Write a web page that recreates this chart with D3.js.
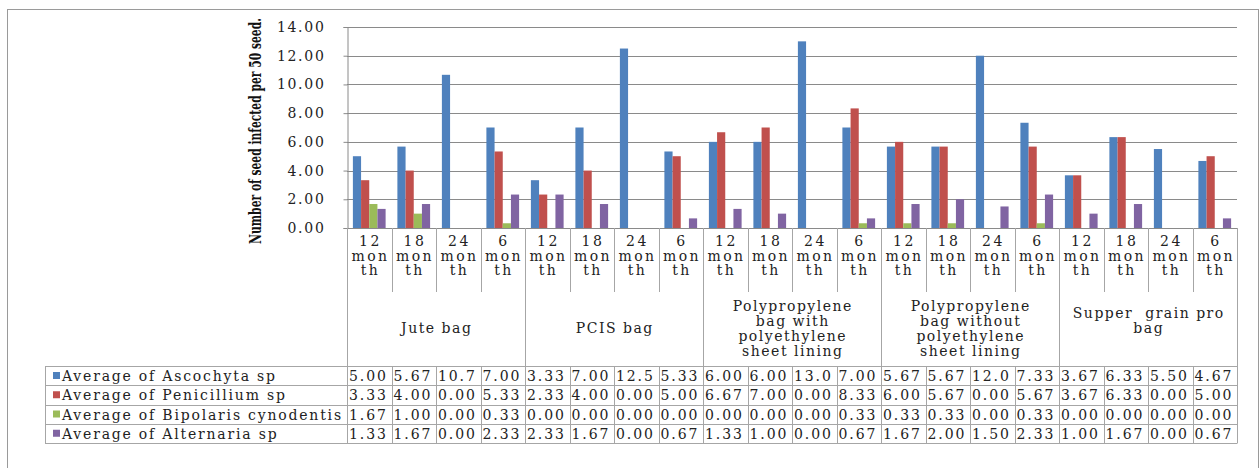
<!DOCTYPE html>
<html>
<head>
<meta charset="utf-8">
<script src="https://cdn.jsdelivr.net/npm/d3@7"></script>
<style>
  html, body { margin: 0; padding: 0; background: #fff; }
  svg { display: block; }
  text { font-family: "DejaVu Serif", serif; fill: #222; white-space: pre; }
</style>
</head>
<body>
<svg id="chart" width="1259" height="468"></svg>
<script>
// ---------- data ----------
const groups = ["Jute bag", "PCIS bag",
  "Polypropylene bag with polyethylene sheet lining",
  "Polypropylene bag without polyethylene sheet lining",
  "Supper  grain pro bag"];
const groupLabelLines = [
  ["Jute bag"],
  ["PCIS bag"],
  ["Polypropylene", "bag with", "polyethylene", "sheet lining"],
  ["Polypropylene", "bag without", "polyethylene", "sheet lining"],
  ["Supper  grain pro", "bag", ""]
];
const months = ["12 month", "18 month", "24 month", "6 month"];
const monthLabelLines = [["12", "mon", "th"], ["18", "mon", "th"], ["24", "mon", "th"], ["6", "mon", "th"]];
const seriesNames = ["Average of Ascochyta sp", "Average of Penicillium sp",
  "Average of Bipolaris cynodentis", "Average of Alternaria sp"];
const ascochyta   = [5.00, 5.67, 10.67, 7.00, 3.33, 7.00, 12.50, 5.33, 6.00, 6.00, 13.00, 7.00, 5.67, 5.67, 12.00, 7.33, 3.67, 6.33, 5.50, 4.67];
const penicillium = [3.33, 4.00, 0.00, 5.33, 2.33, 4.00, 0.00, 5.00, 6.67, 7.00, 0.00, 8.33, 6.00, 5.67, 0.00, 5.67, 3.67, 6.33, 0.00, 5.00];
const bipolaris   = [1.67, 1.00, 0.00, 0.33, 0.00, 0.00, 0.00, 0.00, 0.00, 0.00, 0.00, 0.33, 0.33, 0.33, 0.00, 0.33, 0.00, 0.00, 0.00, 0.00];
const alternaria  = [1.33, 1.67, 0.00, 2.33, 2.33, 1.67, 0.00, 0.67, 1.33, 1.00, 0.00, 0.67, 1.67, 2.00, 1.50, 2.33, 1.00, 1.67, 0.00, 0.67];
const yTicks = [0, 2, 4, 6, 8, 10, 12, 14];
const yTitle = "Number of seed infected per 50 seed.";
const colors = ["#4F81BD", "#C0504D", "#9BBB59", "#8064A2"];

// ---------- layout ----------
const seriesValues = [ascochyta, penicillium, bipolaris, alternaria];
const cats = [];
groups.forEach((g, gi) => months.forEach((m, mi) => cats.push({key: gi + "|" + mi, g: gi, m: mi})));

const L = 347, R = 1237, T = 27, B = 228;
const monthRowBottom = 292, tableTop = 366, rowH = 19.25, legendLeft = 45;
const gridColor = "#8a8a8a", tableColor = "#a6a6a6";

const svg = d3.select("#chart");

// outer chart border
svg.append("rect").attr("x", 7.5).attr("y", 9.5).attr("width", 1251).attr("height", 470)
  .attr("fill", "none").attr("stroke", "#9a9a9a").attr("stroke-width", 1);

const x0 = d3.scaleBand().domain(cats.map(d => d.key)).range([L, R]).paddingInner(0).paddingOuter(0);
const x1 = d3.scaleBand().domain(d3.range(seriesNames.length))
  .range([0, x0.bandwidth()]).paddingInner(0).paddingOuter(0.72);
const y = d3.scaleLinear().domain([0, 14]).range([B, T]);

// gridlines
svg.append("g").selectAll("line").data(yTicks).join("line")
  .attr("x1", L).attr("x2", R)
  .attr("y1", d => Math.round(y(d)) + 0.5).attr("y2", d => Math.round(y(d)) + 0.5)
  .attr("stroke", gridColor).attr("stroke-width", 1);

// y axis
const yAxis = d3.axisLeft(y).tickValues(yTicks).tickFormat(d3.format(".2f")).tickSize(4).tickPadding(18);
const ya = svg.append("g").attr("transform", `translate(${L + 0.5},0)`).call(yAxis);
ya.select(".domain").attr("stroke", gridColor);
ya.selectAll(".tick line").attr("stroke", gridColor);
ya.selectAll(".tick text").attr("font-family", "DejaVu Serif").attr("font-size", 14)
  .attr("letter-spacing", 1.7).attr("fill", "#333");

// bars
const bars = svg.append("g");
seriesValues.forEach((vals, si) => {
  bars.selectAll(null).data(cats).join("rect")
    .attr("x", d => x0(d.key) + x1(si))
    .attr("width", x1.bandwidth())
    .attr("y", (d, i) => y(vals[i]))
    .attr("height", (d, i) => y(0) - y(vals[i]))
    .attr("fill", colors[si]);
});

// y-axis title (condensed bold serif, scaled to the reference length)
const titleG = svg.append("g").attr("transform", `translate(261,${(18 + 244) / 2}) rotate(-90)`);
const titleT = titleG.append("text")
  .attr("text-anchor", "middle")
  .attr("font-family", "Liberation Serif").attr("font-weight", "bold").attr("font-size", 16)
  .style("fill", "#111")
  .text(yTitle);
const natural = titleT.node().getComputedTextLength();
titleT.attr("transform", `scale(${226 / natural},1)`);

// ---------- category axis ----------
const cat = svg.append("g");
const lineStyle = sel => sel.attr("stroke", tableColor).attr("stroke-width", 1);
cat.append("line").attr("x1", L).attr("x2", R).attr("y1", B + 0.5).attr("y2", B + 0.5).attr("stroke", gridColor);
cats.forEach(d => {
  const xx = Math.round(x0(d.key)) + 0.5;
  const isGroupEdge = d.m === 0;
  cat.append("line").attr("x1", xx).attr("x2", xx).attr("y1", B)
    .attr("y2", isGroupEdge ? tableTop : monthRowBottom).call(lineStyle);
});
cat.append("line").attr("x1", R + 0.5).attr("x2", R + 0.5).attr("y1", B).attr("y2", tableTop).call(lineStyle);

// month labels
cats.forEach(d => {
  const cx = x0(d.key) + x0.bandwidth() / 2;
  const t = cat.append("text").attr("text-anchor", "middle").attr("font-size", 14).attr("letter-spacing", 2.5);
  monthLabelLines[d.m].forEach((ln, li) => {
    t.append("tspan").attr("x", cx + 1.25).attr("y", 246 + li * 14.5).text(ln);
  });
});
// group labels
groups.forEach((g, gi) => {
  const x0g = x0(cats[gi * 4].key), x1g = x0(cats[gi * 4 + 3].key) + x0.bandwidth();
  const cx = (x0g + x1g) / 2;
  const lines = groupLabelLines[gi];
  const lh = 15;
  const cy = (monthRowBottom + tableTop) / 2 + 4;
  const t = cat.append("text").attr("text-anchor", "middle").attr("font-size", 14).attr("letter-spacing", 1.5);
  lines.forEach((ln, li) => {
    t.append("tspan").attr("x", cx + 0.75).attr("y", cy + (li - (lines.length - 1) / 2) * lh).text(ln);
  });
});

// ---------- data table ----------
const tbl = svg.append("g");
const fmt = v => v >= 10 ? v.toFixed(1) : v.toFixed(2);
for (let r = 0; r <= seriesNames.length; r++) {
  const yy = Math.round(tableTop + r * rowH) + 0.5;
  tbl.append("line").attr("x1", legendLeft).attr("x2", R).attr("y1", yy).attr("y2", yy).call(lineStyle);
}
const tableBottom = Math.round(tableTop + seriesNames.length * rowH) + 0.5;
tbl.append("line").attr("x1", legendLeft + 0.5).attr("x2", legendLeft + 0.5).attr("y1", tableTop).attr("y2", tableBottom).call(lineStyle);
cats.forEach(d => {
  const xx = Math.round(x0(d.key)) + 0.5;
  tbl.append("line").attr("x1", xx).attr("x2", xx).attr("y1", tableTop).attr("y2", tableBottom).call(lineStyle);
});
tbl.append("line").attr("x1", R + 0.5).attr("x2", R + 0.5).attr("y1", tableTop).attr("y2", tableBottom).call(lineStyle);

seriesNames.forEach((name, si) => {
  const rowY = tableTop + si * rowH;
  tbl.append("rect").attr("x", 53).attr("y", rowY + 6).attr("width", 7).attr("height", 7).attr("fill", colors[si]);
  tbl.append("text").attr("x", 62).attr("y", rowY + 15).attr("font-size", 14).attr("letter-spacing", 1.8).text(name);
  cats.forEach((d, i) => {
    tbl.append("text").attr("x", x0(d.key) + 2).attr("y", rowY + 15)
      .attr("font-size", 14).attr("letter-spacing", 1.9).text(fmt(seriesValues[si][i]));
  });
});
</script>
</body>
</html>
